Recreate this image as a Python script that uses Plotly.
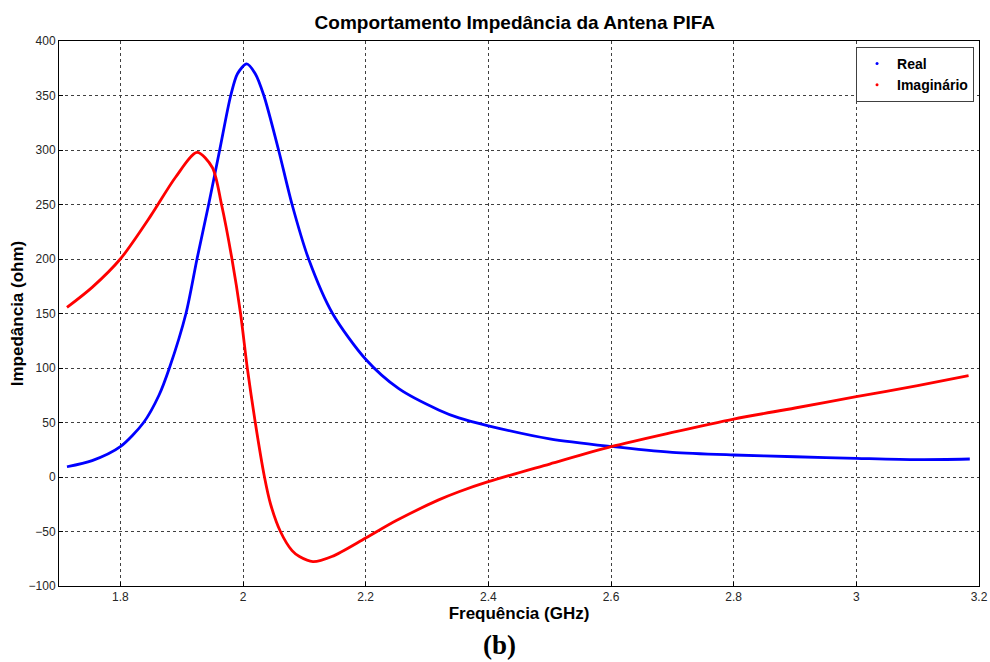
import plotly.graph_objects as go

# Real part of the impedance (ohm) vs frequency (GHz)
freq_real = [1.713, 1.754, 1.800, 1.838, 1.863, 1.880, 1.907, 1.925, 1.944, 1.962,
             1.980, 1.991, 2.006, 2.020, 2.034, 2.058, 2.080, 2.107, 2.146, 2.200,
             2.254, 2.319, 2.352, 2.400, 2.500, 2.600, 2.700, 2.800, 2.900, 3.000,
             3.100, 3.185]
z_real = [9.4, 15, 27.8, 50, 75, 100, 150, 200, 250, 300,
          350, 370, 379, 370, 350, 300, 250, 200, 150, 108,
          81, 61.5, 54.2, 47, 35, 28, 22.6, 20.2, 18.6, 17.1,
          15.9, 16.5]

# Imaginary part
freq_imag = [1.713, 1.754, 1.800, 1.850, 1.890, 1.925, 1.950, 1.965, 1.982, 1.996,
             2.007, 2.020, 2.035, 2.045, 2.061, 2.080, 2.092, 2.114, 2.145, 2.200,
             2.250, 2.319, 2.352, 2.400, 2.500, 2.600, 2.700, 2.800, 2.900, 3.000,
             3.100, 3.183]
z_imag = [155.6, 174, 200, 240, 275, 297.8, 284, 250, 200, 150,
          100, 50, 0, -25, -50, -67.6, -73, -77.7, -73, -56,
          -40, -21, -13.5, -4.3, 11.9, 27.8, 40.9, 53.2, 63.3, 73.7,
          83.8, 92.9]

x_ticks = [1.8, 2.0, 2.2, 2.4, 2.6, 2.8, 3.0, 3.2]
x_ticktext = ['1.8', '2', '2.2', '2.4', '2.6', '2.8', '3', '3.2']

font_family = 'Liberation Sans, Arial, sans-serif'

fig = go.Figure()

fig.add_trace(go.Scatter(x=freq_real, y=z_real, mode='lines',
                         line=dict(color='#0000FF', width=2.8, shape='spline', smoothing=0.8),
                         showlegend=False))
fig.add_trace(go.Scatter(x=freq_imag, y=z_imag, mode='lines',
                         line=dict(color='#FF0000', width=2.8, shape='spline', smoothing=0.8),
                         showlegend=False))

# legend entries drawn as dots, like the original marker style
fig.add_trace(go.Scatter(x=[None], y=[None], mode='markers', name='Real',
                         marker=dict(color='#0000FF', size=3)))
fig.add_trace(go.Scatter(x=[None], y=[None], mode='markers', name='Imaginário',
                         marker=dict(color='#FF0000', size=3)))

axis_common = dict(showline=True, linecolor='black', linewidth=1, mirror=True,
                   ticks='inside', ticklen=4, tickcolor='black', automargin=False,
                   showgrid=True, gridcolor='#404040', gridwidth=1, griddash='3px,3px',
                   zeroline=False,
                   tickfont=dict(family=font_family, size=12, color='#262626'))

fig.update_layout(
    width=990, height=662,
    margin=dict(l=59, r=11, t=41, b=76),
    paper_bgcolor='white', plot_bgcolor='white',
    title=dict(text='Comportamento Impedância da Antena PIFA',
               x=0.520, xanchor='center', y=0.9668, yanchor='middle',
               font=dict(family=font_family, size=19, color='black', weight='bold')),
    xaxis=dict(range=[1.7, 3.2], tickvals=x_ticks, ticktext=x_ticktext,
               title=dict(text='Frequência (GHz)', standoff=2,
                          font=dict(family=font_family, size=17, color='black', weight='bold')),
               **axis_common),
    yaxis=dict(range=[-100, 400], dtick=50,
               title=dict(text='Impedância (ohm)', standoff=0,
                          font=dict(family=font_family, size=17, color='black', weight='bold')),
               **axis_common),
    legend=dict(x=0.9946, xanchor='right', y=0.989, yanchor='top',
                bgcolor='white', bordercolor='#404040', borderwidth=1,
                font=dict(family=font_family, size=14, color='black', weight='bold'),
                itemwidth=30, tracegroupgap=0),
    annotations=[dict(text='(b)', xref='paper', yref='paper', x=0.479, y=-0.108,
                      xanchor='center', yanchor='middle', showarrow=False,
                      font=dict(family='Liberation Serif, Times New Roman, serif',
                                size=27, color='black', weight='bold'))],
)

# drop the default page margin so the figure fills the 990x662 window exactly
fig.write_html("out.html", config={'displayModeBar': False},
               post_script="document.body.style.margin='0';document.body.style.overflow='hidden';")
